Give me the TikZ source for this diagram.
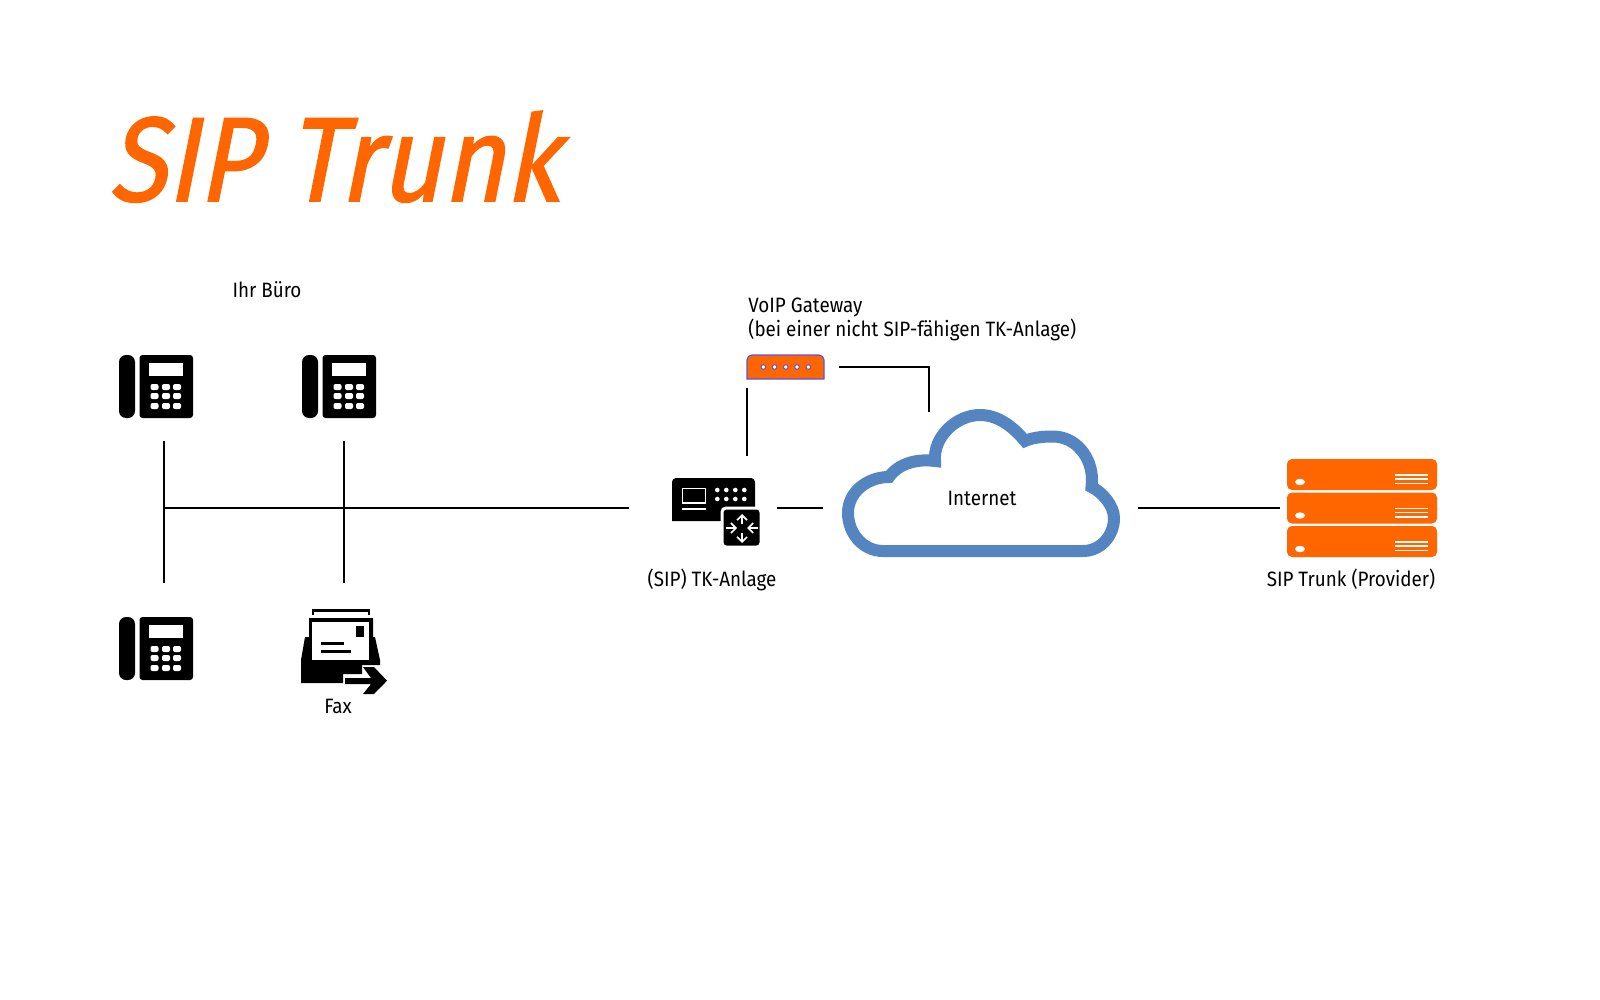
\documentclass[tikz,border=0pt]{standalone}
\usepackage{fontspec}
\usetikzlibrary{arrows.meta}
\setmainfont{Fira Sans}[FakeStretch=0.905]
\newfontfamily\titlefont{Fira Sans}[FakeStretch=0.885, FakeSlant=0.2, FakeBold=1.3]
\definecolor{trunkorange}{HTML}{FF6600}
\definecolor{cloudblue}{HTML}{5585C0}
\definecolor{gatewayblue}{HTML}{5A55D8}
\tikzset{
    link/.style={draw=black, line width=1pt},
    lbl/.style={inner sep=0pt, font=\fontsize{10.4}{12}\selectfont},
    routerarrow/.style={white, line width=0.8pt, -{Straight Barb[length=2.5pt,width=5pt]}},
    phone/.pic={
        \fill[rounded corners=3.5pt] (0,0) rectangle (16,63);
        \fill[rounded corners=1.5pt] (20.5,0) rectangle (74,63);
        \fill[white] (30,8) rectangle (64,21);
        \foreach \r in {32,41,51} {
            \foreach \c in {35.5,47,58} {
                \fill[white, rounded corners=1pt] (\c-4,\r-3) rectangle (\c+4,\r+3);
            }
        }
    },
    rack/.pic={
        \fill[trunkorange, rounded corners=2.5pt] (0,0) rectangle (150,31);
        \fill[white] (13,23) ellipse (5 and 3.2);
        \foreach \r in {16,20,24.5} {
            \draw[white, line width=0.7pt] (108,\r) -- (141,\r);
        }
    }
}
\begin{document}
\begin{tikzpicture}[x=0.5pt, y=-0.5pt]
    \useasboundingbox (0,0) rectangle (1600,1000);

    % Title
    \node[anchor=base west, inner sep=0pt, text=trunkorange, font=\fontsize{60}{70}\titlefont] (title) at (108,201) {SIP Trunk};

    % Telephones
    \pic at (119,355) {phone};
    \pic at (302,355) {phone};
    \pic at (119,617) {phone};

    % Fax machine
    \fill (312,609) rectangle (370,611.5);
    \fill (312,609) rectangle (314,615);
    \fill (368,609) rectangle (370,615);
    \fill (301,683) -- (301,660) -- (305,637) -- (309,637) -- (309,618) -- (373,618) -- (373,637) -- (375,637) -- (380,660) -- (380,665) -- (362,665) -- (362,674) -- (343,674) -- (343,683) -- cycle;
    \fill[white] (312,622) rectangle (369,660);
    \fill (356,626) rectangle (364,637);
    \fill (321,642) rectangle (344,645);
    \fill (321,650) rectangle (351,653);
    \fill (345,678) -- (371,678) -- (363,667) -- (374,667) -- (387,680.7) -- (374,694) -- (363,694) -- (371,684) -- (345,684) -- cycle;

    % TK-Anlage with router
    \fill (672,521) [rounded corners=2pt] -- (672,478) -- (755,478) [sharp corners] -- (755,521) -- cycle;
    \draw[white, line width=0.8pt] (682.5,488.5) rectangle (705.5,503);
    \draw[white, line width=0.8pt] (682,509) -- (706,509);
    \foreach \c in {717.3,726.3,735.3,744.3} {
        \foreach \r in {490,499} {
            \fill[white] (\c,\r) circle (2.3);
        }
    }
    \fill[draw=white, line width=1.5pt, rounded corners=2pt] (722,508) rectangle (761,547);
    \draw[routerarrow] (742,523.5) -- (742,514);
    \draw[routerarrow] (742,533) -- (742,543);
    \draw[routerarrow] (726,528) -- (737,528);
    \draw[routerarrow] (758,528) -- (747,528);

    % VoIP gateway
    \filldraw[fill=trunkorange, draw=gatewayblue, line width=0.6pt] (747,379) [rounded corners=2.5pt] -- (747,355) -- (824,355) [sharp corners] -- (824,379) -- cycle;
    \foreach \c in {763.3,774.6,785.8,797,808.3} {
        \filldraw[fill=white, draw=gatewayblue, line width=0.5pt] (\c,367) circle (2.3);
    }

    % Cloud
    \draw[cloudblue, line width=6pt, fill=white, miter limit=6]
        (883,551) to[out=180, in=-90] (848,513) to[out=90, in=180] (889,477)
        to[out=55, in=172, looseness=0.9] (935,461)
        to[out=95, in=180, looseness=0.95] (980,415) to[out=0, in=130, looseness=0.9] (1025,441)
        to[out=25, in=180, looseness=0.8] (1053,436.5) to[out=0, in=90] (1092,480) -- (1091.5,487)
        to[out=-25, in=90, looseness=0.8] (1114,518) to[out=-90, in=0] (1083,551) -- cycle;

    % Provider servers
    \foreach \y in {459,492.5,526} {
        \pic at (1287,\y) {rack};
    }

    % Labels
    \node[lbl] (buero) at (267,290) {Ihr Büro};
    \node[lbl, anchor=west] (gateway) at (748,307) {VoIP Gateway};
    \node[lbl, anchor=west] (hint) at (748,329.5) {(bei einer nicht SIP-fähigen TK-Anlage)};
    \node[lbl] (internet) at (982,498) {Internet};
    \node[lbl] (anlage) at (712,580) {(SIP) TK-Anlage};
    \node[lbl] (provider) at (1351,579) {SIP Trunk (Provider)};
    \node[lbl] (fax) at (338,706) {Fax};

    % Connector ends
    \coordinate (T1) at (164,441);
    \coordinate (T2) at (344,441);
    \coordinate (T3) at (164,583);
    \coordinate (T4) at (344,583);
    \coordinate (B0) at (164,508);
    \coordinate (B1) at (629,508);
    \coordinate (A0) at (777,508);
    \coordinate (A1) at (823,508);
    \coordinate (A2) at (747,456);
    \coordinate (G0) at (747,388);
    \coordinate (G1) at (839,367);
    \coordinate (G2) at (928.6,412);
    \coordinate (P0) at (1138,508);
    \coordinate (P1) at (1280,508);

    \draw[link] (T1) -- (T3);
    \draw[link] (T2) -- (T4);
    \draw[link] (B0) -- (B1);
    \draw[link] (A0) -- (A1);
    \draw[link] (A2) -- (G0);
    \draw[link] (G1) -| (G2);
    \draw[link] (P0) -- (P1);
\end{tikzpicture}
\end{document}
